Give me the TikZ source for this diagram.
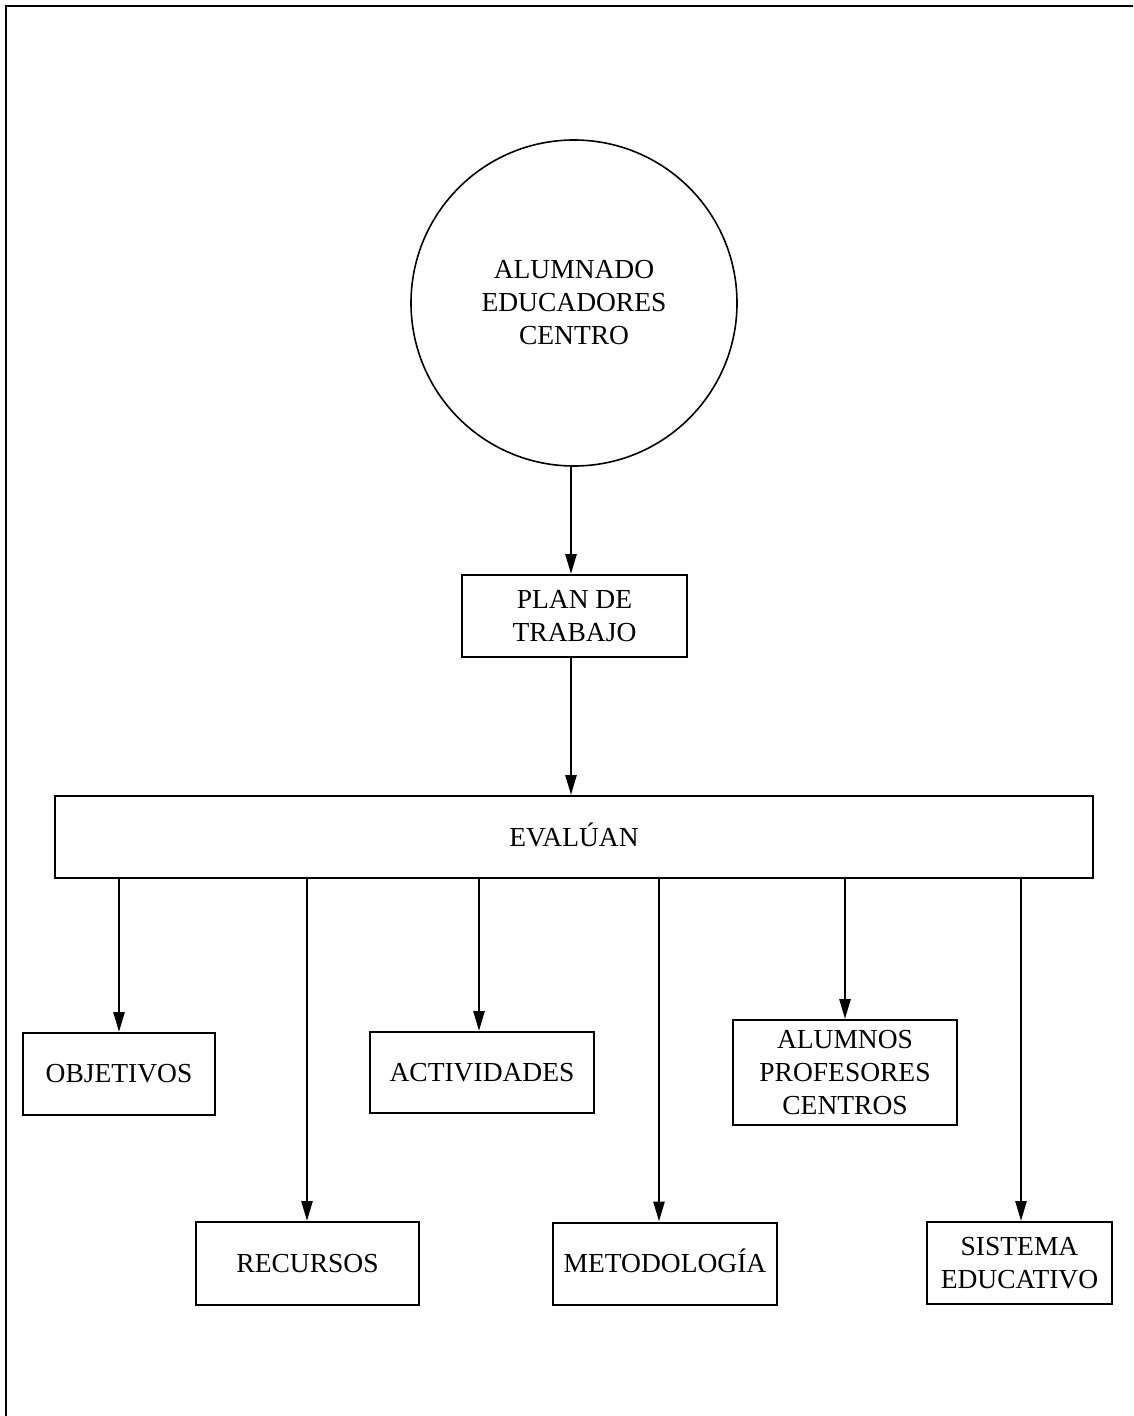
\documentclass[tikz,border=0pt]{standalone}
\usepackage{fontspec}
\setmainfont{Liberation Serif}
\usetikzlibrary{arrows.meta}
% accented capitals keep the height of a plain capital
\newcommand{\capline}[1]{\vphantom{M}\smash{#1}}
\begin{document}
\begin{tikzpicture}[x=1pt,y=-1pt,
  every node/.style={font=\fontsize{27.5}{33}\selectfont, align=center, inner sep=0pt},
  box/.style={draw, line width=2pt, rectangle},
  arr/.style={line width=2.6pt, -{Triangle[length=20pt,width=11pt]}},
  frame/.style={line width=2.4pt}]
  \useasboundingbox (0,0) rectangle (1133,1416);
  % frame lines along the left and top
  \coordinate (fa) at (6,1416);
  \coordinate (fb) at (6,6);
  \coordinate (fc) at (1133,6);
  \draw[frame] (fa) -- (fb) -- (fc);

  % top circle and the chain below it
  \node[draw, circle, line width=1.6pt, minimum size=326pt] (grupo) at (574,303)
    {ALUMNADO\\EDUCADORES\\CENTRO};
  \node[box, minimum width=225pt, minimum height=82pt] (plan) at (574.5,616)
    {PLAN DE\\TRABAJO};
  \node[box, minimum width=1038pt, minimum height=82pt] (eval) at (574,837)
    {\capline{EVALÚAN}};

  \coordinate (xc) at (571,0);
  \draw[arr] (xc |- grupo.south) -- (xc |- plan.north);
  \draw[arr] (xc |- plan.south) -- (xc |- eval.north);

  % items that are evaluated
  \node[box, minimum width=192pt, minimum height=82pt] (obj) at (119,1074) {OBJETIVOS};
  \node[box, minimum width=224pt, minimum height=81pt] (act) at (482,1072.5) {ACTIVIDADES};
  \node[box, minimum width=224pt, minimum height=105pt] (alu) at (845,1072.5)
    {ALUMNOS\\PROFESORES\\CENTROS};
  \node[box, minimum width=223pt, minimum height=83pt] (rec) at (307.5,1263.5) {RECURSOS};
  \node[box, minimum width=224pt, minimum height=82pt] (met) at (665,1263.5) {\capline{METODOLOGÍA}};
  \node[box, minimum width=185pt, minimum height=82pt] (sis) at (1019.5,1263)
    {SISTEMA\\EDUCATIVO};

  \coordinate (x1) at (119,0);
  \coordinate (x2) at (307,0);
  \coordinate (x3) at (479,0);
  \coordinate (x4) at (659,0);
  \coordinate (x5) at (845,0);
  \coordinate (x6) at (1021,0);
  \draw[arr] (x1 |- eval.south) -- (x1 |- obj.north);
  \draw[arr] (x2 |- eval.south) -- (x2 |- rec.north);
  \draw[arr] (x3 |- eval.south) -- (x3 |- act.north);
  \draw[arr] (x4 |- eval.south) -- (x4 |- met.north);
  \draw[arr] (x5 |- eval.south) -- (x5 |- alu.north);
  \draw[arr] (x6 |- eval.south) -- (x6 |- sis.north);
\end{tikzpicture}
\end{document}
